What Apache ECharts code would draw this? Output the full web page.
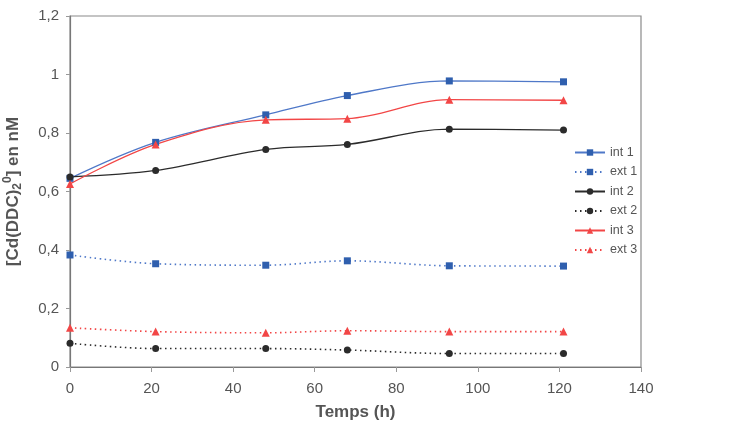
<!DOCTYPE html>
<html>
<head>
<meta charset="utf-8">
<script src="https://cdn.jsdelivr.net/npm/echarts@6/dist/echarts.min.js"></script>
<style>html,body{margin:0;padding:0;background:#fff}#c{width:737px;height:438px}</style>
</head>
<body>
<div id="c"></div>
<script>
const hours = [0, 21, 48, 68, 93, 121];
const int1 = [0.645, 0.768, 0.862, 0.928, 0.978, 0.975];
const ext1 = [0.383, 0.353, 0.348, 0.363, 0.346, 0.345];
const int2 = [0.650, 0.672, 0.744, 0.761, 0.813, 0.810];
const ext2 = [0.081, 0.063, 0.063, 0.058, 0.046, 0.046];
const int3 = [0.626, 0.761, 0.845, 0.849, 0.914, 0.912];
const ext3 = [0.134, 0.121, 0.117, 0.124, 0.121, 0.121];
const seriesNames = ['int 1', 'ext 1', 'int 2', 'ext 2', 'int 3', 'ext 3'];
const xTicks = [0, 20, 40, 60, 80, 100, 120, 140];
const yTicks = [0, 0.2, 0.4, 0.6, 0.8, 1, 1.2];

const BLUE_LINE = '#4f78c8', BLUE_MK = '#2f5fae';
const RED = '#f24646';
const BLACK = '#2b2b2b';
const FONT = 'Liberation Sans, Arial, sans-serif';

function pairs(v) { return hours.map((h, i) => [h, v[i]]); }
function mk(name, data, lineColor, mkColor, symbol, size, dotted) {
  return {
    name, type: 'line', data: pairs(data), smooth: 0.35,
    symbol, symbolSize: size,
    lineStyle: { color: lineColor, width: dotted ? 1.6 : 1.3, type: dotted ? [1.5, 3.5] : 'solid' },
    itemStyle: { color: mkColor },
    emphasis: { disabled: true }
  };
}

const chart = echarts.init(document.getElementById('c'));
chart.setOption({
  animation: false,
  textStyle: { fontFamily: FONT },
  grid: { left: 70, top: 16, width: 571, height: 351, show: true, borderColor: '#8a8a8a', borderWidth: 1.2,
          containLabel: false, outerBoundsMode: 'none' },
  legend: {
    data: seriesNames, orient: 'vertical', left: 569, top: 141,
    itemWidth: 30, itemHeight: 8, itemGap: 6.5,
    textStyle: { fontSize: 12.5, color: '#555', fontFamily: FONT }
  },
  xAxis: {
    type: 'value', min: 0, max: 140, interval: 20,
    name: 'Temps (h)', nameLocation: 'middle', nameGap: 37,
    nameTextStyle: { fontSize: 17, fontWeight: 'bold', color: '#555' },
    axisLine: { lineStyle: { color: '#777', width: 1.2 } },
    axisTick: { show: true, length: 5, lineStyle: { color: '#999' } },
    axisLabel: { fontSize: 15, color: '#555', margin: 14, formatter: v => xTicks.includes(v) ? String(v) : '' },
    splitLine: { show: false }
  },
  yAxis: {
    type: 'value', min: 0, max: 1.2, interval: 0.2,
    name: '{b|[Cd(DDC)}{s|2}{p|0}{b|] en nM}', nameLocation: 'middle', nameGap: 46,
    nameTextStyle: {
      rich: {
        b: { fontSize: 17, fontWeight: 'bold', color: '#555', fontFamily: FONT },
        s: { fontSize: 12, fontWeight: 'bold', color: '#555', fontFamily: FONT, verticalAlign: 'bottom', padding: [8, 0, 0, 0] },
        p: { fontSize: 12, fontWeight: 'bold', color: '#555', fontFamily: FONT, verticalAlign: 'top', padding: [0, 0, 10, 0] }
      }
    },
    axisLine: { show: true, lineStyle: { color: '#777', width: 1.2 } },
    axisTick: { show: true, length: 4, lineStyle: { color: '#999' } },
    axisLabel: { fontSize: 15, color: '#555', margin: 11,
      formatter: v => { const t = yTicks.find(y => Math.abs(y - v) < 1e-9); return t === undefined ? '' : String(t).replace('.', ','); } },
    splitLine: { show: false }
  },
  series: [
    mk('int 1', int1, BLUE_LINE, BLUE_MK, 'rect', 7, false),
    mk('ext 1', ext1, BLUE_LINE, BLUE_MK, 'rect', 7, true),
    mk('int 2', int2, BLACK, BLACK, 'circle', 7, false),
    mk('ext 2', ext2, BLACK, BLACK, 'circle', 7, true),
    mk('int 3', int3, RED, RED, 'triangle', 8, false),
    mk('ext 3', ext3, RED, RED, 'triangle', 8, true)
  ]
});
</script>
</body>
</html>
